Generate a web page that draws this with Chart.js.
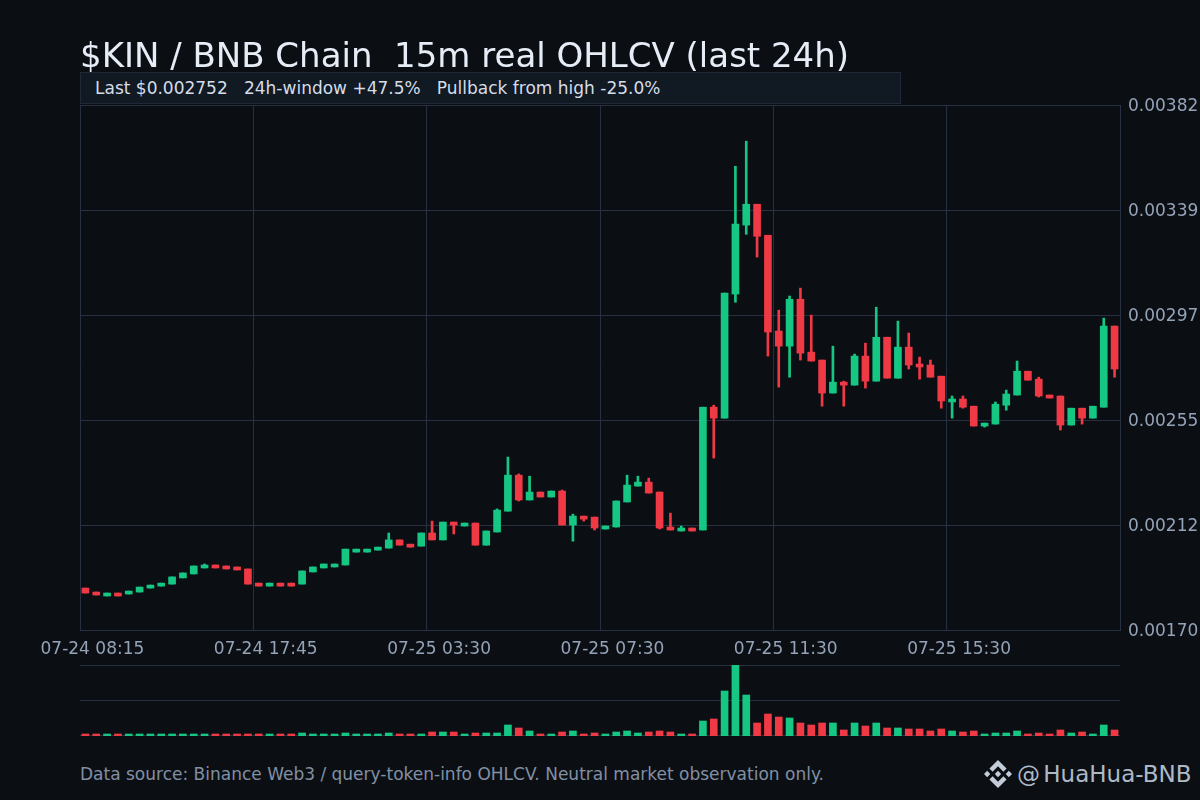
<!DOCTYPE html>
<html>
<head>
<meta charset="utf-8">
<title>$KIN / BNB Chain</title>
<script src="https://cdn.jsdelivr.net/npm/chart.js@4"></script>
<style>
  html, body { margin: 0; padding: 0; background: #0b0f14; overflow: hidden; }
  body { width: 1200px; height: 800px; position: relative; font-family: "DejaVu Sans", sans-serif; }
  canvas { position: absolute; left: 0; }
  #priceWrap, #volWrap { position: absolute; left: 0; width: 1200px; }
  #priceWrap { top: 0; height: 660px; }
  #volWrap { top: 660px; height: 80px; }
  .txt { position: absolute; white-space: pre; }
  #title { left: 80px; top: 35px; font-size: 34px; line-height: 40px; color: #e6edf7; }
  #stats { left: 80px; top: 72px; width: 819px; height: 30px; line-height: 30px; background: #111922; border: 1px solid #1f2937; font-size: 17px; color: #d5dde8; text-indent: 14px; }
  #source { left: 80px; top: 764px; font-size: 17px; line-height: 20px; color: #8290a3; }
  #mark { left: 1017px; top: 759px; font-size: 23px; line-height: 30px; word-spacing: -4px; color: #aeb9c7; }
  #logo { position: absolute; left: 984px; top: 760px; width: 28px; height: 28px; fill: #c3ccd8; }
</style>
</head>
<body>
<div id="priceWrap"><canvas id="priceChart"></canvas></div>
<div id="volWrap"><canvas id="volChart"></canvas></div>
<div class="txt" id="title">$KIN / BNB Chain  15m real OHLCV (last 24h)</div>
<div class="txt" id="stats">Last $0.002752   24h-window +47.5%   Pullback from high -25.0%</div>
<div class="txt" id="source">Data source: Binance Web3 / query-token-info OHLCV. Neutral market observation only.</div>
<svg id="logo" viewBox="0 0 24 24"><path d="M16.624 13.9202l2.7175 2.7154-7.353 7.353-7.353-7.352 2.7175-2.7164 4.6355 4.6595 4.6356-4.6595zm4.6366-4.6366L24 12l-2.7154 2.7164L18.5682 12l2.6924-2.7164zm-9.272.001l2.7163 2.6914-2.7164 2.7174v-.001L9.2721 12l2.7164-2.7154zm-9.2722-.001L5.4088 12l-2.6914 2.6924L0 12l2.7164-2.7164zM11.9885.0115l7.353 7.329-2.7174 2.7154-4.6356-4.6356-4.6355 4.6595-2.7174-2.7154 7.353-7.353z"/></svg>
<div class="txt" id="mark">@ HuaHua-BNB</div>

<script>
// x axis labels, one every 16 candles
var timeLabels = ['07-24 08:15', '07-24 17:45', '07-25 03:30', '07-25 07:30', '07-25 11:30', '07-25 15:30'];
var priceTicks = [0.0017, 0.0021231, 0.0025463, 0.0029695, 0.0033927, 0.003816];

var opens = [
  0.001869, 0.001853, 0.001837, 0.001849, 0.001845, 0.001853, 0.001869, 0.001877,
  0.001885, 0.001910, 0.001926, 0.001950, 0.001962, 0.001958, 0.001954, 0.001946,
  0.001889, 0.001877, 0.001889, 0.001889, 0.001885, 0.001934, 0.001950, 0.001954,
  0.001962, 0.002014, 0.002014, 0.002022, 0.002030, 0.002063, 0.002046, 0.002038,
  0.002091, 0.002063, 0.002135, 0.002119, 0.002131, 0.002042, 0.002095, 0.002179,
  0.002324, 0.002224, 0.002256, 0.002236, 0.002260, 0.002123, 0.002159, 0.002155,
  0.002107, 0.002115, 0.002216, 0.002280, 0.002296, 0.002256, 0.002115, 0.002099,
  0.002111, 0.002103, 0.002598, 0.002554, 0.003054, 0.003332, 0.003416, 0.003291,
  0.002905, 0.002844, 0.003033, 0.002820, 0.002788, 0.002655, 0.002699, 0.002687,
  0.002804, 0.002703, 0.002880, 0.002715, 0.002840, 0.002772, 0.002768, 0.002723,
  0.002619, 0.002631, 0.002602, 0.002522, 0.002530, 0.002606, 0.002647, 0.002743,
  0.002711, 0.002647, 0.002643, 0.002526, 0.002594, 0.002554, 0.002598, 0.002925
];
var closes = [
  0.001849, 0.001841, 0.001849, 0.001837, 0.001857, 0.001873, 0.001881, 0.001889,
  0.001914, 0.001930, 0.001958, 0.001962, 0.001950, 0.001946, 0.001942, 0.001885,
  0.001877, 0.001889, 0.001877, 0.001877, 0.001938, 0.001954, 0.001966, 0.001966,
  0.002026, 0.002026, 0.002026, 0.002034, 0.002063, 0.002042, 0.002034, 0.002091,
  0.002063, 0.002135, 0.002123, 0.002131, 0.002042, 0.002099, 0.002183, 0.002324,
  0.002224, 0.002256, 0.002236, 0.002260, 0.002123, 0.002159, 0.002147, 0.002111,
  0.002119, 0.002220, 0.002284, 0.002296, 0.002252, 0.002111, 0.002103, 0.002111,
  0.002099, 0.002598, 0.002554, 0.003058, 0.003336, 0.003416, 0.003287, 0.002901,
  0.002844, 0.003033, 0.002816, 0.002784, 0.002655, 0.002699, 0.002687, 0.002804,
  0.002703, 0.002880, 0.002715, 0.002840, 0.002768, 0.002760, 0.002719, 0.002623,
  0.002631, 0.002598, 0.002522, 0.002534, 0.002610, 0.002651, 0.002743, 0.002707,
  0.002643, 0.002635, 0.002526, 0.002594, 0.002554, 0.002602, 0.002925, 0.002752
];
var highs = [
  0.001869, 0.001853, 0.001849, 0.001849, 0.001857, 0.001873, 0.001881, 0.001889,
  0.001914, 0.001930, 0.001958, 0.001966, 0.001962, 0.001958, 0.001954, 0.001946,
  0.001889, 0.001889, 0.001889, 0.001889, 0.001938, 0.001954, 0.001966, 0.001966,
  0.002026, 0.002026, 0.002026, 0.002034, 0.002091, 0.002063, 0.002046, 0.002091,
  0.002139, 0.002135, 0.002135, 0.002131, 0.002131, 0.002099, 0.002188, 0.002397,
  0.002329, 0.002320, 0.002256, 0.002260, 0.002264, 0.002167, 0.002159, 0.002155,
  0.002119, 0.002220, 0.002324, 0.002320, 0.002312, 0.002256, 0.002171, 0.002119,
  0.002111, 0.002598, 0.002606, 0.003058, 0.003569, 0.003670, 0.003416, 0.003291,
  0.002989, 0.003046, 0.003078, 0.002969, 0.002788, 0.002844, 0.002703, 0.002812,
  0.002856, 0.003001, 0.002880, 0.002945, 0.002897, 0.002800, 0.002788, 0.002723,
  0.002643, 0.002643, 0.002602, 0.002534, 0.002619, 0.002667, 0.002784, 0.002743,
  0.002719, 0.002647, 0.002643, 0.002594, 0.002594, 0.002602, 0.002957, 0.002925
];
var lows = [
  0.001849, 0.001841, 0.001837, 0.001837, 0.001845, 0.001853, 0.001869, 0.001877,
  0.001885, 0.001910, 0.001926, 0.001950, 0.001950, 0.001946, 0.001942, 0.001885,
  0.001877, 0.001877, 0.001877, 0.001877, 0.001885, 0.001934, 0.001950, 0.001954,
  0.001962, 0.002014, 0.002014, 0.002022, 0.002030, 0.002042, 0.002034, 0.002038,
  0.002063, 0.002063, 0.002087, 0.002119, 0.002042, 0.002042, 0.002095, 0.002179,
  0.002220, 0.002224, 0.002236, 0.002236, 0.002123, 0.002058, 0.002139, 0.002103,
  0.002107, 0.002115, 0.002216, 0.002280, 0.002252, 0.002107, 0.002103, 0.002099,
  0.002099, 0.002103, 0.002393, 0.002554, 0.003021, 0.003295, 0.003203, 0.002804,
  0.002679, 0.002719, 0.002788, 0.002784, 0.002602, 0.002655, 0.002602, 0.002687,
  0.002675, 0.002703, 0.002715, 0.002715, 0.002752, 0.002711, 0.002719, 0.002594,
  0.002554, 0.002594, 0.002522, 0.002518, 0.002530, 0.002586, 0.002647, 0.002707,
  0.002639, 0.002635, 0.002506, 0.002526, 0.002530, 0.002554, 0.002598, 0.002719
];
// volume has no axis in the picture, so these are relative units (peak = 71)
var volumes = [
  2, 2, 2, 2, 2, 2, 2, 2,
  2, 2, 2, 2, 2, 2, 2, 2,
  2, 2, 2, 2, 3, 2, 2, 2,
  3, 2, 2, 2, 3, 2, 2, 2,
  4, 4, 4, 2, 3, 3, 3, 11,
  8, 5, 2, 2, 4, 5, 2, 3,
  2, 4, 5, 3, 4, 5, 4, 2,
  2, 15, 17, 45, 71, 41, 13, 22,
  19, 18, 13, 11, 13, 13, 6, 13,
  10, 13, 8, 8, 7, 7, 5, 7,
  5, 4, 5, 2, 3, 3, 5, 2,
  3, 2, 6, 3, 4, 2, 11, 6
];
var volTicks = [0.5, 35.5, 70.5];

var UP = '#16c784';
var DOWN = '#ef3945';
var GRID = '#263040';
var TICK = '#94a3b8';
var FONT = { family: '"DejaVu Sans"', size: 17 };

var categories = opens.map(function (o, i) { return i; });
var colors = opens.map(function (o, i) { return closes[i] >= o ? UP : DOWN; });
var bodies = opens.map(function (o, i) { return [o, closes[i]]; });
var wicks = lows.map(function (l, i) { return [l, highs[i]]; });

new Chart(document.getElementById('priceChart'), {
  type: 'bar',
  data: {
    labels: categories,
    datasets: [
      { data: wicks, backgroundColor: colors, barThickness: 2, grouped: false, order: 2, borderWidth: 0 },
      { data: bodies, backgroundColor: colors, barThickness: 7, grouped: false, order: 1, borderWidth: 0 }
    ]
  },
  options: {
    responsive: true,
    maintainAspectRatio: false,
    animation: false,
    layout: { autoPadding: false, padding: { left: 80, top: 105, right: 0, bottom: 0 } },
    plugins: { legend: { display: false }, tooltip: { enabled: false } },
    scales: {
      x: {
        offset: true,
        grid: {
          offset: true,
          drawTicks: false,
          color: function (c) { return c.index % 16 === 0 ? GRID : 'transparent'; }
        },
        border: { display: false },
        ticks: {
          autoSkip: false,
          maxRotation: 0,
          labelOffset: 7,
          padding: 9,
          color: TICK,
          font: FONT,
          callback: function (v, i) { return i % 16 === 0 ? timeLabels[i / 16] : ''; }
        },
        afterFit: function (s) { s.height = 30; }
      },
      y: {
        position: 'right',
        min: priceTicks[0],
        max: priceTicks[priceTicks.length - 1],
        grid: { drawTicks: false, color: GRID },
        border: { color: GRID },
        afterBuildTicks: function (s) { s.ticks = priceTicks.map(function (v) { return { value: v }; }); },
        ticks: {
          padding: 8,
          labelOffset: 2,
          color: TICK,
          font: FONT,
          callback: function (v) { return v.toFixed(5); }
        },
        afterFit: function (s) { s.width = 80; }
      }
    }
  }
});

new Chart(document.getElementById('volChart'), {
  type: 'bar',
  data: {
    labels: categories,
    datasets: [{ data: volumes, backgroundColor: colors, barThickness: 7, borderWidth: 0 }]
  },
  options: {
    responsive: true,
    maintainAspectRatio: false,
    animation: false,
    layout: { autoPadding: false, padding: { left: 80, top: 5, right: 0, bottom: 4 } },
    plugins: { legend: { display: false }, tooltip: { enabled: false } },
    scales: {
      x: { display: false, offset: true },
      y: {
        position: 'right',
        min: 0,
        max: 71,
        grid: { drawTicks: false, color: GRID },
        border: { display: false },
        afterBuildTicks: function (s) { s.ticks = volTicks.map(function (v) { return { value: v }; }); },
        ticks: { display: false },
        afterFit: function (s) { s.width = 80; }
      }
    }
  }
});
</script>
</body>
</html>
